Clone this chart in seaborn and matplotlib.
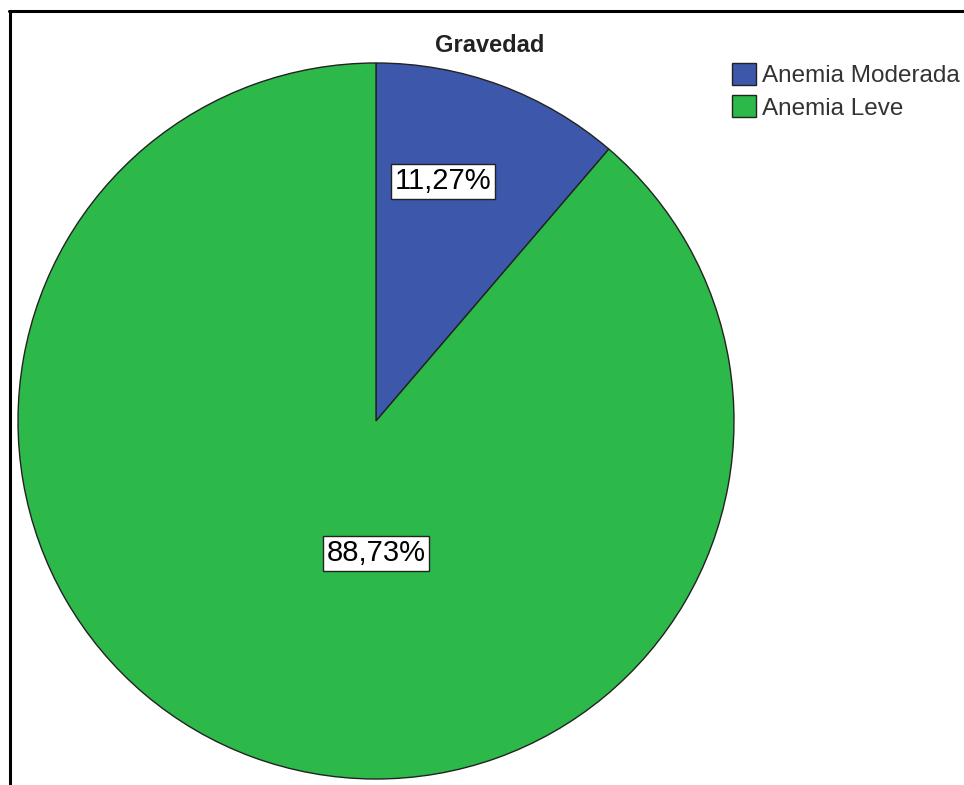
import matplotlib
matplotlib.use("Agg")
import matplotlib.pyplot as plt
from matplotlib.patches import Patch
from matplotlib.lines import Line2D
import seaborn as sns

# Data
categories = ["Anemia Moderada", "Anemia Leve"]
percentages = [11.27, 88.73]
title = "Gravedad"

sns.set_theme(style="white")
plt.rcParams["font.family"] = ["Liberation Sans", "DejaVu Sans"]

colors = ["#3D57AB", "#2DB84A"]

W, H = 964, 785
fig = plt.figure(figsize=(W / 100, H / 100), dpi=100)
fig.patch.set_facecolor("white")

# pie axes: center (376, 421) px, radius 358 px
cx, cy, r = 376, 421, 358
ax = fig.add_axes([(cx - r) / W, (H - cy - r) / H, 2 * r / W, 2 * r / H])
wedges, _ = ax.pie(percentages, colors=colors, startangle=90, counterclock=False,
                   radius=1, wedgeprops=dict(edgecolor="#222222", linewidth=1.0))
for w in wedges:
    w.set_clip_on(False)
ax.set_xlim(-1, 1)
ax.set_ylim(-1, 1)
ax.set_aspect("equal")
ax.axis("off")

# percentage labels (positions relative to pie radius)
label_pos = [(0.187, 0.670), (0.0, -0.370)]
for pct, (lx, ly) in zip(percentages, label_pos):
    ax.text(lx, ly, f"{pct:.2f}%".replace(".", ","), ha="center", va="center",
            fontsize=21, color="black",
            bbox=dict(boxstyle="square,pad=0.12", facecolor="white",
                      edgecolor="#222222", linewidth=1.0))

# title
fig.text(490 / W, 1 - 45 / H, title, ha="center", va="center",
         fontsize=17, fontweight="bold", color="#222222")

# legend
handles = [Patch(facecolor=c, edgecolor="#222222", linewidth=1.0) for c in colors]
leg = fig.legend(handles, categories, loc="upper left",
                 bbox_to_anchor=(732 / W, 1 - 63 / H), frameon=False,
                 fontsize=17.5, handlelength=1.0, handleheight=1.0,
                 handletextpad=0.22, labelspacing=0.34, borderpad=0,
                 borderaxespad=0)
for t in leg.get_texts():
    t.set_color("#333333")

# frame lines (top and left)
fig.add_artist(Line2D([10 / W, 10 / W], [0, 1 - 11 / H], transform=fig.transFigure,
                      color="black", linewidth=2.2))
fig.add_artist(Line2D([9.2 / W, 1.0], [1 - 11 / H, 1 - 11 / H], transform=fig.transFigure,
                      color="black", linewidth=2.2))

fig.savefig("out.png", dpi=100, facecolor="white")
